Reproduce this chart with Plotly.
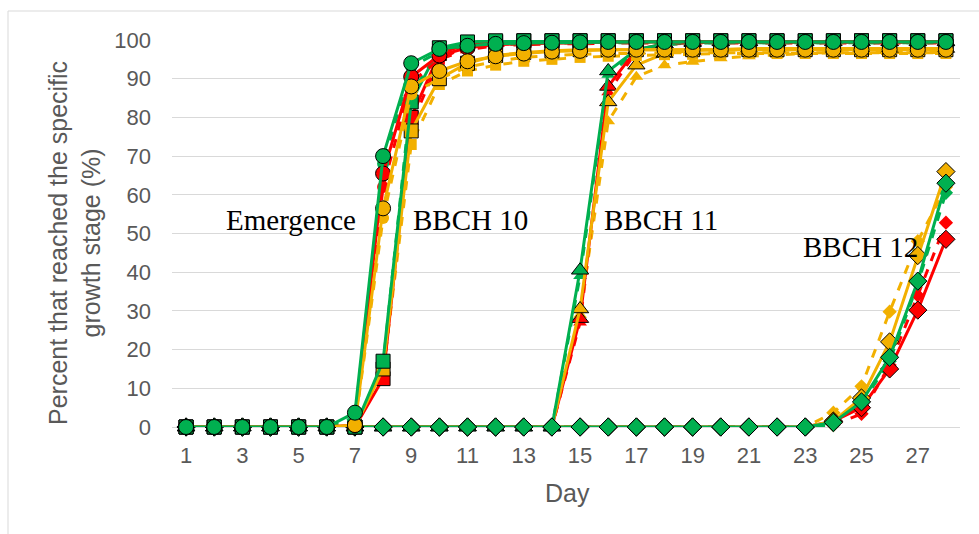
import plotly.graph_objects as go

days = list(range(1, 29))

# Emergence (circles)
emer_red   = [0, 0, 0, 0, 0, 0, 0.5, 65.5, 90.5, 96, 98, 98.8, 99, 99.2, 99.3, 99.4, 99.5, 99.5, 99.5, 99.5, 99.5, 99.5, 99.5, 99.5, 99.5, 99.5, 99.5, 99.5]
emer_red_d = [0, 0, 0, 0, 0, 0, 0.3, 62, 89, 95, 97.5, 98.5, 98.8, 99, 99, 99.2, 99.2, 99.2, 99.2, 99.2, 99.2, 99.2, 99.2, 99.2, 99.2, 99.2, 99.2, 99.2]
emer_org   = [0, 0, 0, 0, 0, 0, 0.5, 56.5, 88, 92, 94.5, 95.8, 96.5, 97, 97.2, 97.5, 97.5, 97.5, 97.5, 97.5, 97.5, 97.5, 97.5, 97.5, 97.5, 97.5, 97.5, 97.5]
emer_org_d = [0, 0, 0, 0, 0, 0, 0.3, 54, 86, 90, 93, 94.5, 95.5, 96, 96.3, 96.5, 96.5, 96.7, 96.7, 96.7, 96.7, 96.7, 96.7, 96.7, 96.7, 96.7, 96.7, 96.7]
emer_grn   = [0, 0, 0, 0, 0, 0, 3.7, 70, 94, 97.7, 98.5, 99, 99.2, 99.3, 99.4, 99.5, 99.5, 99.5, 99.5, 99.5, 99.5, 99.5, 99.5, 99.5, 99.5, 99.5, 99.5, 99.5]
emer_grn_d = [0, 0, 0, 0, 0, 0, 2.5, 68, 93, 97, 98.3, 98.8, 99, 99.2, 99.3, 99.3, 99.3, 99.3, 99.3, 99.3, 99.3, 99.3, 99.3, 99.3, 99.3, 99.3, 99.3, 99.3]

# BBCH 10 (squares)
b10_red   = [0, 0, 0, 0, 0, 0, 0, 12.5, 80, 96.5, 99, 99.5, 99.8, 99.8, 99.8, 99.8, 99.8, 99.8, 99.8, 99.8, 99.8, 99.8, 99.8, 99.8, 99.8, 99.8, 99.8, 99.8]
b10_red_d = [0, 0, 0, 0, 0, 0, 0, 13.5, 78, 95, 98.5, 99.3, 99.5, 99.5, 99.5, 99.5, 99.5, 99.5, 99.5, 99.5, 99.5, 99.5, 99.5, 99.5, 99.5, 99.5, 99.5, 99.5]
b10_org   = [0, 0, 0, 0, 0, 0, 0, 15, 76.5, 90, 94, 96, 96.8, 97.2, 97.5, 97.5, 97.5, 97.5, 97.5, 97.5, 97.5, 97.5, 97.5, 97.5, 97.5, 97.5, 97.5, 97.5]
b10_org_d = [0, 0, 0, 0, 0, 0, 0, 14, 73, 88.5, 92, 93.5, 94.5, 95, 95.5, 95.8, 96, 96.2, 96.3, 96.5, 96.5, 96.5, 96.5, 96.5, 96.5, 96.5, 96.5, 96.5]
b10_grn   = [0, 0, 0, 0, 0, 0, 0, 17, 84, 98, 99.5, 99.8, 99.8, 99.8, 99.8, 99.8, 99.8, 99.8, 99.8, 99.8, 99.8, 99.8, 99.8, 99.8, 99.8, 99.8, 99.8, 99.8]
b10_grn_d = [0, 0, 0, 0, 0, 0, 0, 16, 86, 97.5, 99.2, 99.5, 99.6, 99.6, 99.6, 99.6, 99.6, 99.6, 99.6, 99.6, 99.6, 99.6, 99.6, 99.6, 99.6, 99.6, 99.6, 99.6]

# BBCH 11 (triangles)
b11_red   = [0, 0, 0, 0, 0, 0, 0, 0, 0, 0, 0, 0, 0, 0, 28, 88, 97.5, 99, 99.5, 99.6, 99.6, 99.6, 99.6, 99.6, 99.6, 99.6, 99.6, 99.6]
b11_red_d = [0, 0, 0, 0, 0, 0, 0, 0, 0, 0, 0, 0, 0, 0, 27, 86.5, 97, 98.8, 99.3, 99.5, 99.5, 99.5, 99.5, 99.5, 99.5, 99.5, 99.5, 99.5]
b11_org   = [0, 0, 0, 0, 0, 0, 0, 0, 0, 0, 0, 0, 0, 0, 30.5, 84, 93.5, 96.5, 97.3, 97.6, 97.8, 97.8, 97.8, 97.8, 97.8, 97.8, 97.8, 97.8]
b11_org_d = [0, 0, 0, 0, 0, 0, 0, 0, 0, 0, 0, 0, 0, 0, 29, 79, 90.5, 93.5, 94.4, 95.3, 95.8, 96.2, 96.5, 96.7, 96.8, 96.8, 96.8, 96.8]
b11_grn   = [0, 0, 0, 0, 0, 0, 0, 0, 0, 0, 0, 0, 0, 0, 40.5, 92, 97.5, 99, 99.3, 99.5, 99.5, 99.5, 99.5, 99.5, 99.5, 99.5, 99.5, 99.5]
b11_grn_d = [0, 0, 0, 0, 0, 0, 0, 0, 0, 0, 0, 0, 0, 0, 39, 91, 97, 98.8, 99.2, 99.3, 99.3, 99.3, 99.3, 99.3, 99.3, 99.3, 99.3, 99.3]

# BBCH 12 (diamonds)
b12_red   = [0, 0, 0, 0, 0, 0, 0, 0, 0, 0, 0, 0, 0, 0, 0, 0, 0, 0, 0, 0, 0, 0, 0, 1.5, 5, 15, 30.2, 48.5]
b12_red_d = [0, 0, 0, 0, 0, 0, 0, 0, 0, 0, 0, 0, 0, 0, 0, 0, 0, 0, 0, 0, 0, 0, 0, 0.5, 3.4, 16, 34, 52.8]
b12_org   = [0, 0, 0, 0, 0, 0, 0, 0, 0, 0, 0, 0, 0, 0, 0, 0, 0, 0, 0, 0, 0, 0, 0, 1.5, 7.5, 22, 44.3, 66]
b12_org_d = [0, 0, 0, 0, 0, 0, 0, 0, 0, 0, 0, 0, 0, 0, 0, 0, 0, 0, 0, 0, 0, 0, 0, 3.7, 10.5, 29.8, 48, 62]
b12_grn   = [0, 0, 0, 0, 0, 0, 0, 0, 0, 0, 0, 0, 0, 0, 0, 0, 0, 0, 0, 0, 0, 0, 0, 1.2, 6.5, 18, 37.7, 63]
b12_grn_d = [0, 0, 0, 0, 0, 0, 0, 0, 0, 0, 0, 0, 0, 0, 0, 0, 0, 0, 0, 0, 0, 0, 0, 0.5, 6, 17, 37, 60.5]

stage_labels = ["Emergence", "BBCH 10", "BBCH 11", "BBCH 12"]
x_ticks = list(range(1, 28, 2))
y_ticks = list(range(0, 101, 10))

RED, ORG, GRN = "#FF0000", "#F2B000", "#00B050"

# drawing order: triangles, diamonds, squares, circles (circles end up on top)
groups = [
    ("triangle-up", [(b11_red_d, b11_red, RED), (b11_org_d, b11_org, ORG), (b11_grn_d, b11_grn, GRN)], 15),
    ("diamond", [(b12_red_d, b12_red, RED), (b12_org_d, b12_org, ORG), (b12_grn_d, b12_grn, GRN)], 14),
    ("square", [(b10_red_d, b10_red, RED), (b10_org_d, b10_org, ORG), (b10_grn_d, b10_grn, GRN)], 14),
    ("circle", [(emer_red_d, emer_red, RED), (emer_org_d, emer_org, ORG), (emer_grn_d, emer_grn, GRN)], 15),
]

fig = go.Figure()
for symbol, series, msize in groups:
    for dashed_vals, solid_vals, color in series:
        fig.add_trace(go.Scatter(
            x=days, y=dashed_vals, mode="lines+markers", cliponaxis=False,
            line=dict(color=color, width=3, dash="dash"),
            marker=dict(symbol=symbol, size=msize - 3, color=color, line=dict(width=0)),
            showlegend=False, hoverinfo="skip"))
    for dashed_vals, solid_vals, color in series:
        fig.add_trace(go.Scatter(
            x=days, y=solid_vals, mode="lines+markers", cliponaxis=False,
            line=dict(color=color, width=3),
            marker=dict(symbol=symbol, size=msize, color=color, line=dict(color="#000000", width=1)),
            showlegend=False, hoverinfo="skip"))

L, R, T, B = 172, 19, 40, 107
W, H = 979, 534
pw, ph = W - L - R, H - T - B


def px(xp):
    return (xp - L) / pw


def py(yp):
    return (H - B - yp) / ph


label_pos = [(291, 220), (470, 220), (661, 220), (860, 247)]
annotations = []
for text, (lx, ly) in zip(stage_labels, label_pos):
    annotations.append(dict(
        text=text, x=px(lx), y=py(ly), xref="paper", yref="paper",
        showarrow=False, xanchor="center", yanchor="middle",
        font=dict(family="Liberation Serif", size=29, color="#000000")))

annotations.append(dict(
    text="Percent that reached the specific<br>growth stage (%)",
    x=px(74), y=py(243), xref="paper", yref="paper", showarrow=False,
    textangle=-90, xanchor="center", yanchor="middle",
    font=dict(family="Liberation Sans", size=25, color="#595959")))
annotations.append(dict(
    text="Day", x=px(567), y=py(493), xref="paper", yref="paper", showarrow=False,
    xanchor="center", yanchor="middle",
    font=dict(family="Liberation Sans", size=25, color="#595959")))

shapes = [
    dict(type="line", xref="paper", yref="paper", x0=px(8), x1=px(8), y0=py(11), y1=py(540),
         line=dict(color="#D9D9D9", width=1)),
    dict(type="line", xref="paper", yref="paper", x0=px(8), x1=px(985), y0=py(11), y1=py(11),
         line=dict(color="#D9D9D9", width=1)),
]

fig.update_layout(
    width=W, height=H,
    margin=dict(l=L, r=R, t=T, b=B, pad=0),
    paper_bgcolor="#FFFFFF", plot_bgcolor="#FFFFFF",
    annotations=annotations, shapes=shapes,
    xaxis=dict(range=[0.5, 28.5], tickvals=x_ticks, ticks="", showgrid=False,
               zeroline=False, showline=False, ticklabelstandoff=13,
               tickfont=dict(family="Liberation Sans", size=22, color="#595959")),
    yaxis=dict(range=[0, 100], tickvals=y_ticks, ticks="", showgrid=True,
               gridcolor="#D9D9D9", gridwidth=1.3, zeroline=True, zerolinecolor="#D9D9D9",
               zerolinewidth=1.3, showline=False, ticklabelstandoff=20,
               tickfont=dict(family="Liberation Sans", size=22, color="#595959")),
)

fig.write_html("out.html")
